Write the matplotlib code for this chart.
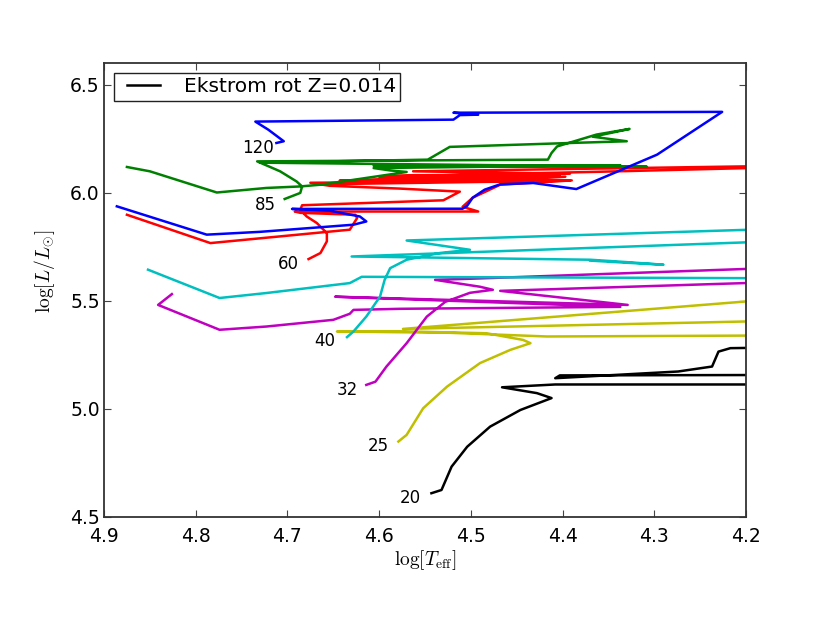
import numpy as np
import matplotlib
matplotlib.use('Agg')
import matplotlib.pyplot as plt
from matplotlib.legend_handler import HandlerLine2D

plt.rcParams['mathtext.fontset'] = 'cm'

nan = np.nan

# Ekstrom et al. rotating tracks, Z=0.014  (logTeff, logL)
m20_T = [4.543, 4.532, 4.521, 4.504, 4.479, 4.446, 4.412, 4.428, 4.466, 4.408, 4.15,
         4.15, 4.403, 4.408, 4.274, 4.237, 4.230, 4.217, 4.15]
m20_L = [4.610, 4.625, 4.733, 4.825, 4.918, 4.995, 5.050, 5.073, 5.100, 5.113, 5.113,
         5.157, 5.155, 5.142, 5.173, 5.196, 5.265, 5.281, 5.285]

m25_T = [4.579, 4.570, 4.552, 4.526, 4.490, 4.457, 4.435, 4.443, 4.483, 4.577, 4.646,
         4.523, 4.417, 4.15, 4.15, 4.574, 4.15]
m25_L = [4.849, 4.880, 5.003, 5.103, 5.212, 5.273, 5.304, 5.319, 5.350, 5.359, 5.358,
         5.352, 5.335, 5.340, 5.409, 5.370, 5.514]

m32_T = [4.614, 4.604, 4.592, 4.570, 4.548, 4.528, 4.501, 4.476, 4.490, 4.539, 4.501,
         4.15, 4.15, 4.468, 4.329, 4.648, 4.337, 4.577, 4.628, 4.632, 4.650, 4.723,
         4.774, 4.841, 4.826]
m32_L = [5.111, 5.126, 5.196, 5.304, 5.427, 5.495, 5.537, 5.551, 5.565, 5.597, 5.602,
         5.655, 5.589, 5.546, 5.481, 5.519, 5.472, 5.463, 5.458, 5.440, 5.412, 5.381,
         5.366, 5.481, 5.531]

m40_T = [4.635, 4.628, 4.614, 4.599, 4.594, 4.588, 4.570, 4.534, 4.501, 4.570, 4.15,
         4.15, 4.630, 4.370, 4.337, 4.290, 4.330, 4.370, nan,
         4.15, 4.619, 4.632, 4.723, 4.774, 4.852]
m40_L = [5.332, 5.358, 5.427, 5.520, 5.597, 5.651, 5.690, 5.721, 5.736, 5.779, 5.835,
         5.778, 5.705, 5.690, 5.681, 5.667, 5.676, 5.686, nan,
         5.604, 5.611, 5.582, 5.536, 5.513, 5.644]

m60_T = [4.677, 4.664, 4.657, 4.657, 4.668, 4.679, 4.686, 4.684, 4.530, 4.512, 4.577,
         4.654, 4.675, 4.392, 4.664, 4.397, 4.643, 4.403, 4.600, 4.359, 4.15,
         4.15, 4.563, 4.392, 4.589, 4.390, 4.468, 4.498, 4.509, 4.492, 4.692, 4.686,
         4.626, 4.624, 4.632, 4.784, 4.875]
m60_L = [5.693, 5.721, 5.775, 5.813, 5.860, 5.890, 5.921, 5.942, 5.965, 6.005, 6.019,
         6.032, 6.046, 6.056, 6.039, 6.074, 6.056, 6.083, 6.074, 6.097, 6.119,
         6.125, 6.099, 6.088, 6.079, 6.057, 6.037, 5.977, 5.935, 5.913, 5.913, 5.907,
         5.898, 5.883, 5.829, 5.767, 5.898]

m85_T = [4.703, 4.686, 4.684, 4.690, 4.708, 4.733, 4.416, 4.412, 4.406, 4.363, 4.327,
         4.367, 4.330, 4.392, 4.523, 4.547, 4.730, 4.308, 4.606, 4.337, 4.606, 4.588,
         4.570, 4.664, 4.686, 4.723, 4.777, 4.850, 4.875]
m85_L = [5.971, 5.999, 6.029, 6.052, 6.099, 6.145, 6.153, 6.184, 6.214, 6.269, 6.295,
         6.259, 6.238, 6.230, 6.212, 6.153, 6.139, 6.120, 6.125, 6.127, 6.114, 6.103,
         6.096, 6.037, 6.029, 6.022, 6.001, 6.099, 6.119]

m120_T = [4.712, 4.704, 4.721, 4.735, 4.519, 4.512, 4.492, 4.519, 4.226, 4.297, 4.385,
          4.432, 4.468, 4.485, 4.498, 4.504, 4.509, 4.695, 4.654, 4.621, 4.614, 4.628,
          4.730, 4.788, 4.886]
m120_L = [6.230, 6.238, 6.292, 6.329, 6.338, 6.359, 6.361, 6.370, 6.374, 6.176, 6.017,
          6.045, 6.039, 6.014, 5.977, 5.940, 5.926, 5.925, 5.917, 5.890, 5.867, 5.852,
          5.819, 5.806, 5.937]

tracks = [(m20_T, m20_L, 'k'), (m25_T, m25_L, 'y'), (m32_T, m32_L, 'm'),
          (m40_T, m40_L, 'c'), (m60_T, m60_L, 'r'), (m85_T, m85_L, 'g'),
          (m120_T, m120_L, 'b')]

masses = ['20', '25', '32', '40', '60', '85', '120']
label_T = [4.566, 4.601, 4.635, 4.659, 4.699, 4.724, 4.732]
label_L = [4.587, 4.830, 5.088, 5.312, 5.671, 5.944, 6.208]


class InsetLine(HandlerLine2D):
    # old-style legend line, drawn a bit inside the handle box
    def create_artists(self, legend, orig_handle, xdescent, ydescent,
                       width, height, fontsize, trans):
        arts = super().create_artists(legend, orig_handle, xdescent, ydescent,
                                      width, height, fontsize, trans)
        pad = 0.45 * fontsize
        y0 = arts[0].get_ydata()[0]
        arts[0].set_data([-xdescent + pad, -xdescent + width - pad], [y0, y0])
        return arts


fig = plt.figure(figsize=(8.3, 6.23), dpi=100)
ax = fig.add_axes([104/830., 1 - 517/623., 642/830., 454/623.])

for T, L, c in tracks:
    ax.plot(T, L, color=c, lw=1.8)

# legend entry only for the black curve
ax.plot([], [], color='k', lw=1.8, label='Ekstrom rot Z=0.014')

for m, t, l in zip(masses, label_T, label_L):
    ax.text(t, l, m, ha='center', va='center', fontsize=12)

ax.set_xlim(4.9, 4.2)
ax.set_ylim(4.5, 6.6)
ax.set_xticks([4.9, 4.8, 4.7, 4.6, 4.5, 4.4, 4.3, 4.2])
ax.set_yticks([4.5, 5.0, 5.5, 6.0, 6.5])
ax.set_xticklabels(['4.9', '4.8', '4.7', '4.6', '4.5', '4.4', '4.3', '4.2'])
ax.set_yticklabels(['4.5', '5.0', '5.5', '6.0', '6.5'])
ax.tick_params(direction='in', top=True, right=True, length=5, width=0.8,
               labelsize=13.5, color='#444444')
ax.tick_params(axis='x', pad=7)
ax.tick_params(axis='y', pad=3)
for s in ax.spines.values():
    s.set_color('#333333')
    s.set_linewidth(1.3)

ax.set_xlabel(r'$\log[T_{\rm eff}]$', fontsize=14)
ax.set_ylabel(r'$\log[L/L_{\odot}]$', fontsize=14)
ax.xaxis.set_label_coords(0.5, -0.068)
ax.yaxis.set_label_coords(-0.073, 0.542)

leg = ax.legend(loc='upper left', fontsize=14.5, fancybox=False, framealpha=1,
                handlelength=2.55, handletextpad=0.7, borderpad=0.22,
                borderaxespad=0.48, handler_map={matplotlib.lines.Line2D: InsetLine()})
leg.get_frame().set_edgecolor('#222222')
leg.get_frame().set_linewidth(1.0)

fig.savefig('out.png', dpi=100, facecolor='white')
